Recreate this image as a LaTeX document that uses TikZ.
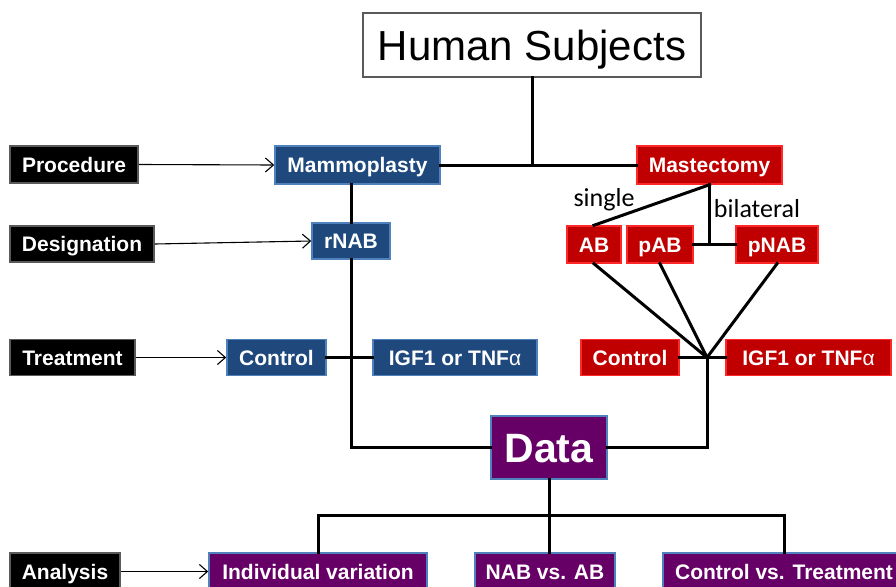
\documentclass[tikz,border=0pt]{standalone}
\usepackage{fontspec}
\setmainfont{Liberation Sans}
\newfontfamily\calibrifont{Carlito}
\usepackage{xcolor}
\usepackage{tikz}
\usetikzlibrary{calc,arrows.meta}
\definecolor{PlanBlue}{RGB}{31,73,125}
\definecolor{PlanBlueEdge}{RGB}{79,129,189}
\definecolor{PlanRed}{RGB}{192,0,0}
\definecolor{PlanRedEdge}{RGB}{255,40,40}
\definecolor{PlanPurple}{RGB}{102,0,102}
\definecolor{PlanGrey}{RGB}{90,90,90}

\begin{document}
\begin{tikzpicture}[x=1pt,y=-1pt,
  box/.style={rectangle,inner sep=0pt,minimum height=37pt,text=white,
    text height=15pt,text depth=0pt,
    font=\fontsize{21}{25}\selectfont\bfseries,line width=1.5pt},
  blackbox/.style={box,fill=black,draw=PlanGrey},
  bluebox/.style={box,fill=PlanBlue,draw=PlanBlueEdge},
  redbox/.style={box,fill=PlanRed,draw=PlanRedEdge},
  purplebox/.style={box,fill=PlanPurple,draw=PlanBlueEdge},
  link/.style={line width=3pt,line cap=rect},
  pointer/.style={line width=1.1pt,-{Straight Barb[length=8pt,width=14pt]}},
  branch/.style={font=\calibrifont\fontsize{26}{30}\selectfont}]
  \useasboundingbox[fill=white] (0,0) rectangle (896,586);

  \node[rectangle,draw=PlanGrey,line width=1.5pt,fill=white,minimum width=338pt,minimum height=64pt,
    text height=30pt,text depth=0pt,font=\fontsize{42}{48}\selectfont] (hs) at (532,45) {Human Subjects};

  % row labels
  \node[blackbox,minimum width=128pt] (proc) at (74,164.5) {Procedure};
  \node[blackbox,minimum width=144pt,minimum height=36pt] (desig) at (82,244) {Designation};
  \node[blackbox,minimum width=125pt,minimum height=36pt] (treat) at (72.5,357.5) {Treatment};
  \node[blackbox,minimum width=110pt] (anal) at (65,571.5) {Analysis};

  % mammoplasty branch
  \node[bluebox,minimum width=165pt,minimum height=38pt] (mammo) at (357.5,165) {Mammoplasty};
  \node[bluebox,minimum width=78pt,minimum height=36pt] (rnab) at (351,241) {rNAB};
  \node[bluebox,minimum width=99pt,minimum height=36pt] (ctrlb) at (276.5,357.5) {Control};
  \node[bluebox,minimum width=164pt,minimum height=36pt] (igfb) at (455,357.5) {IGF1 or TNF{\mdseries α}};

  % mastectomy branch
  \node[redbox,minimum width=145pt,minimum height=38pt] (mast) at (709.5,165) {Mastectomy};
  \node[redbox,minimum width=54pt] (ab) at (594,244.5) {AB};
  \node[redbox,minimum width=66pt] (pab) at (660,244.5) {pAB};
  \node[redbox,minimum width=82pt] (pnab) at (777,244.5) {pNAB};
  \node[redbox,minimum width=98pt,minimum height=36pt] (ctrlr) at (630,357.5) {Control};
  \node[redbox,minimum width=165pt,minimum height=36pt] (igfr) at (808.5,357.5) {IGF1 or TNF{\mdseries α}};
  \node[branch] (single) at (604,200) {single};
  \node[branch] (bilat) at (757,209) {bilateral};
  \coordinate (conv) at (707,357.5);

  % data and analysis
  \node[purplebox,minimum width=116pt,minimum height=63pt,text height=30pt,
    font=\fontsize{41}{46}\selectfont\bfseries] (data) at (549,447.5) {Data};
  \node[purplebox,minimum width=218pt] (indiv) at (318,571.5) {Individual variation};
  \node[purplebox,minimum width=140pt] (nabab) at (545,571.5) {NAB vs. AB};
  \node[purplebox,minimum width=242pt] (ctvt) at (784,571.5) {Control vs. Treatment};
  \coordinate (bus) at (549,515);

  % connectors
  \draw[link] (hs.south) -- (hs.south |- mammo.east);
  \draw[link] (mammo.east) -- (mast.west);
  \draw[link] (rnab.north |- mammo.south) -- (rnab.north);
  \draw[link] (rnab.south) -- (rnab.south |- data.west) -- (data.west);
  \draw[link] (ctrlb.east) -- (igfb.west);
  \draw[link] (mast.south) -- (ab.north);
  \draw[link] (mast.south) -- (mast.south |- pab.east);
  \draw[link] (pab.east) -- (pnab.west);
  \foreach \n in {ab,pab,pnab}{
    \draw[link] (\n.south) -- (conv);
  }
  \draw[link] (ctrlr.east) -- (igfr.west);
  \draw[link] (conv) -- (conv |- data.east) -- (data.east);
  \draw[link] (data.south) -- (data.south |- nabab.north);
  \draw[link] (indiv.north) -- (indiv.north |- bus) -- (ctvt.north |- bus) -- (ctvt.north);

  % arrows
  \draw[pointer] (proc.east) -- (mammo.west);
  \draw[pointer] (desig.east) -- (rnab.west);
  \draw[pointer] (treat.east) -- (ctrlb.west);
  \draw[pointer] (anal.east) -- (indiv.west);
\end{tikzpicture}
\end{document}
